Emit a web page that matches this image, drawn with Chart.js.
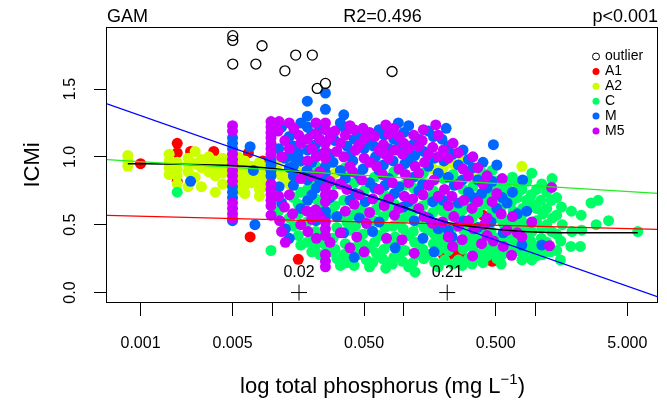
<!DOCTYPE html>
<html>
<head>
<meta charset="utf-8">
<script src="https://cdn.jsdelivr.net/npm/chart.js@4.4.0/dist/chart.umd.min.js"></script>
<style>
  html, body { margin: 0; padding: 0; background: #fff; }
  #wrap { width: 667px; height: 403px; position: relative; }
</style>
</head>
<body>
<div id="wrap"><canvas id="chart"></canvas></div>
<script>
// groups and colours (R rainbow(5))
const groups = ['A1', 'A2', 'C', 'M', 'M5'];
const groupColors = ['#FF0000', '#CCFF00', '#00FF66', '#0066FF', '#CC00FF'];

// axis ticks
const xTickValues = [0.001, 0.005, 0.01, 0.05, 0.1, 0.5, 1, 5];
const xTickLabels = ['0.001', '0.005', '', '0.050', '', '0.500', '', '5.000'];
const yTickValues = [0, 0.5, 1, 1.5];
const yTickLabels = ['0.0', '0.5', '1.0', '1.5'];

// [total phosphorus mg/L, ICMi]
const a1Points = [
  [0.001, 0.95], [0.0019, 1.10], [0.0019, 1.03], [0.0019, 0.82], [0.0024, 1.04], [0.0036, 1.04],
  [0.0059, 0.79], [0.0066, 1.03], [0.0068, 0.41], [0.0085, 0.97], [0.013, 1.0], [0.0158, 0.245],
  [0.045, 0.83], [0.20, 0.28], [0.235, 0.27], [0.25, 0.29], [0.28, 0.26], [0.40, 0.57], [0.47, 0.23]
];
const a2Points = [
  [0.0008, 1.01], [0.0008, 0.97], [0.0008, 0.93],
  [0.00165, 1.02], [0.00165, 0.97], [0.00165, 0.92], [0.00165, 0.87],
  [0.0019, 0.96], [0.0019, 0.91], [0.0019, 0.86], [0.0019, 0.80],
  [0.0023, 0.99], [0.0023, 0.94], [0.0023, 0.89], [0.0023, 0.78],
  [0.0026, 1.04], [0.0026, 0.95], [0.0026, 0.85],
  [0.0029, 0.98], [0.0029, 0.92], [0.0029, 0.78],
  [0.0033, 1.00], [0.0033, 0.95], [0.0033, 0.89],
  [0.0037, 0.97], [0.0037, 0.92], [0.0037, 0.86], [0.0037, 0.74],
  [0.0042, 0.99], [0.0042, 0.94], [0.0042, 0.88], [0.0042, 0.80],
  [0.0047, 0.95], [0.0047, 0.90],
  [0.0055, 1.00], [0.0055, 0.94], [0.0055, 0.88], [0.0055, 0.82], [0.0055, 0.76],
  [0.0062, 0.97], [0.0062, 0.91], [0.0062, 0.85], [0.0062, 0.79], [0.0062, 0.73],
  [0.0070, 0.93], [0.0070, 0.87], [0.0070, 0.81],
  [0.0080, 0.96], [0.0080, 0.89], [0.0080, 0.83], [0.0080, 0.76], [0.0080, 0.71],
  [0.0090, 0.92], [0.0090, 0.85], [0.0090, 0.78],
  [0.0112, 0.96], [0.0112, 0.89], [0.0118, 0.86], [0.0125, 0.85], [0.0135, 0.80], [0.0158, 0.90],
  [0.0215, 0.85], [0.030, 0.88],
  [0.168, 0.91], [0.20, 0.92], [0.237, 0.95], [0.282, 0.98], [0.335, 0.85], [0.79, 0.93]
];
const cPoints = [
  [0.0019, 0.74], [0.0098, 0.31], [0.0112, 0.60], [0.0135, 0.55],
  [0.0145, 0.70], [0.0145, 0.49], [0.0158, 0.65], [0.0158, 0.58], [0.0158, 0.42],
  [0.0165, 0.74], [0.0165, 0.35],
  [0.0185, 0.76], [0.0185, 0.52], [0.0185, 0.37], [0.020, 0.80], [0.020, 0.43], [0.020, 0.30],
  [0.0215, 0.93], [0.0215, 0.69], [0.0215, 0.45], [0.0215, 0.35], [0.023, 0.63], [0.023, 0.40], [0.023, 0.28],
  [0.0254, 0.35], [0.0275, 0.58], [0.0275, 0.30],
  [0.030, 0.80], [0.030, 0.64], [0.031, 0.48], [0.029, 0.40], [0.030, 0.32], [0.031, 0.25],
  [0.033, 0.56], [0.033, 0.20],
  [0.036, 0.92], [0.035, 0.68], [0.037, 0.52], [0.036, 0.36], [0.035, 0.28], [0.037, 0.22],
  [0.039, 0.46], [0.039, 0.25],
  [0.042, 0.81], [0.041, 0.57], [0.043, 0.49], [0.042, 0.33], [0.042, 0.20],
  [0.046, 0.62], [0.046, 0.39], [0.046, 0.28],
  [0.050, 0.75], [0.051, 0.59], [0.049, 0.43], [0.050, 0.35], [0.052, 0.24],
  [0.055, 0.47], [0.055, 0.33], [0.055, 0.19],
  [0.060, 0.85], [0.061, 0.61], [0.059, 0.53], [0.060, 0.37], [0.062, 0.29], [0.058, 0.22],
  [0.065, 0.66], [0.065, 0.42], [0.065, 0.28],
  [0.071, 0.72], [0.070, 0.56], [0.072, 0.48], [0.071, 0.32], [0.069, 0.25], [0.073, 0.18],
  [0.077, 0.60], [0.077, 0.37], [0.077, 0.22],
  [0.084, 0.89], [0.085, 0.65], [0.083, 0.49], [0.086, 0.41], [0.084, 0.26], [0.082, 0.21],
  [0.092, 0.51], [0.092, 0.35], [0.092, 0.27],
  [0.100, 0.79], [0.101, 0.55], [0.099, 0.47], [0.102, 0.31], [0.098, 0.23],
  [0.109, 0.58], [0.109, 0.42], [0.109, 0.19],
  [0.119, 0.77], [0.120, 0.61], [0.118, 0.45], [0.121, 0.37], [0.117, 0.22], [0.122, 0.15],
  [0.13, 0.52], [0.13, 0.36], [0.13, 0.28],
  [0.141, 0.88], [0.140, 0.64], [0.143, 0.48], [0.139, 0.32], [0.142, 0.25],
  [0.154, 0.69], [0.154, 0.46], [0.154, 0.28],
  [0.168, 0.75], [0.166, 0.59], [0.170, 0.43], [0.168, 0.36], [0.172, 0.22],
  [0.183, 0.63], [0.183, 0.40], [0.183, 0.31], [0.183, 0.19],
  [0.200, 0.84], [0.198, 0.60], [0.203, 0.44], [0.200, 0.37], [0.205, 0.24],
  [0.218, 0.57], [0.218, 0.31],
  [0.237, 0.87], [0.234, 0.63], [0.240, 0.48], [0.236, 0.21],
  [0.26, 0.58], [0.26, 0.37], [0.26, 0.24],
  [0.282, 0.76], [0.280, 0.61], [0.285, 0.46], [0.282, 0.32], [0.278, 0.20],
  [0.31, 0.66], [0.31, 0.43], [0.31, 0.36], [0.31, 0.25],
  [0.335, 0.78], [0.332, 0.55], [0.338, 0.40], [0.335, 0.33], [0.330, 0.21],
  [0.365, 0.59], [0.365, 0.38], [0.365, 0.26],
  [0.40, 0.88], [0.41, 0.65], [0.40, 0.43], [0.39, 0.29], [0.40, 0.22],
  [0.43, 0.70], [0.43, 0.47], [0.43, 0.34], [0.43, 0.27],
  [0.47, 0.90], [0.48, 0.75], [0.47, 0.60], [0.46, 0.45], [0.48, 0.31],
  [0.51, 0.82], [0.51, 0.55], [0.51, 0.40], [0.51, 0.32], [0.51, 0.25],
  [0.56, 0.77], [0.55, 0.63], [0.57, 0.51], [0.56, 0.28], [0.55, 0.21],
  [0.61, 0.80], [0.61, 0.72], [0.61, 0.53], [0.61, 0.39], [0.61, 0.30],
  [0.67, 0.85], [0.66, 0.67], [0.68, 0.60], [0.67, 0.49], [0.66, 0.42], [0.68, 0.35],
  [0.73, 0.80], [0.73, 0.70], [0.73, 0.52], [0.73, 0.38], [0.73, 0.31],
  [0.79, 0.76], [0.80, 0.62], [0.78, 0.55], [0.79, 0.48], [0.81, 0.28], [0.79, 0.24],
  [0.86, 0.82], [0.86, 0.68], [0.86, 0.50], [0.86, 0.42], [0.86, 0.35],
  [0.94, 0.88], [0.93, 0.72], [0.95, 0.65], [0.94, 0.45], [0.92, 0.38], [0.96, 0.30], [0.94, 0.24],
  [1.02, 0.76], [1.02, 0.62], [1.02, 0.53], [1.02, 0.34], [1.02, 0.27],
  [1.12, 0.80], [1.10, 0.68], [1.14, 0.58], [1.12, 0.48], [1.11, 0.40], [1.13, 0.28],
  [1.22, 0.74], [1.22, 0.62], [1.22, 0.50], [1.22, 0.37],
  [1.34, 0.84], [1.32, 0.68], [1.35, 0.55], [1.33, 0.45], [1.30, 0.30],
  [1.45, 0.70], [1.45, 0.57], [1.45, 0.43], [1.45, 0.31],
  [1.58, 0.63], [1.60, 0.50], [1.56, 0.38], [1.55, 0.24],
  [1.88, 0.60], [1.90, 0.45], [1.86, 0.34],
  [2.23, 0.57], [2.25, 0.46], [2.20, 0.34],
  [2.65, 0.66], [3.0, 0.68], [2.9, 0.50], [3.6, 0.53], [6.0, 0.45]
];
const mPoints = [
  [0.0024, 0.82],
  [0.005, 1.14], [0.005, 1.10], [0.005, 1.06], [0.005, 0.78], [0.005, 0.74], [0.005, 0.70], [0.005, 0.53],
  [0.0068, 1.075], [0.0072, 0.90], [0.0074, 0.50],
  [0.0098, 0.98], [0.0098, 0.94], [0.0098, 0.90], [0.0098, 0.86],
  [0.0112, 1.06], [0.0113, 0.78], [0.0118, 1.22], [0.0118, 0.66], [0.0125, 0.99], [0.0126, 0.47],
  [0.0135, 1.15], [0.0135, 0.92], [0.0135, 0.40],
  [0.0145, 1.08], [0.0145, 1.00], [0.0145, 0.93], [0.0145, 0.86], [0.0145, 0.79], [0.0158, 1.03],
  [0.0165, 1.25], [0.0165, 0.97], [0.0165, 0.62],
  [0.0185, 1.41], [0.0185, 1.30], [0.0185, 1.22], [0.0186, 1.05], [0.0184, 0.90], [0.0185, 0.83], [0.0186, 0.68],
  [0.020, 1.17], [0.020, 0.96], [0.020, 0.72],
  [0.0214, 1.09], [0.0216, 0.77], [0.0215, 0.53], [0.023, 1.20], [0.023, 1.02], [0.023, 0.81],
  [0.0254, 1.47], [0.0254, 1.35], [0.0254, 0.93], [0.0254, 0.88], [0.0254, 0.84], [0.0254, 0.60], [0.0254, 0.56],
  [0.0275, 1.02], [0.0275, 0.70],
  [0.030, 1.12], [0.029, 0.96], [0.031, 0.56], [0.033, 1.25], [0.033, 0.90],
  [0.035, 1.31], [0.035, 1.22], [0.037, 1.08], [0.036, 0.84], [0.035, 0.44],
  [0.039, 1.01], [0.039, 0.68],
  [0.042, 1.13], [0.041, 0.97], [0.043, 0.73], [0.042, 0.26],
  [0.046, 1.17], [0.046, 0.86], [0.046, 0.55],
  [0.050, 1.06], [0.049, 0.91], [0.051, 0.67], [0.055, 1.12], [0.055, 0.81],
  [0.059, 1.08], [0.061, 1.00], [0.060, 0.77], [0.058, 0.45],
  [0.065, 1.20], [0.065, 0.90], [0.065, 0.52],
  [0.071, 1.16], [0.070, 0.94], [0.072, 0.79], [0.077, 1.06], [0.077, 0.84],
  [0.091, 1.25], [0.084, 1.13], [0.083, 0.97], [0.085, 0.73], [0.086, 0.33],
  [0.092, 1.07], [0.092, 0.78],
  [0.100, 1.18], [0.102, 0.95], [0.099, 0.63],
  [0.109, 1.23], [0.109, 0.98], [0.109, 0.67],
  [0.118, 1.09], [0.121, 1.01], [0.119, 0.85], [0.120, 0.53], [0.13, 1.13], [0.13, 0.75],
  [0.142, 1.04], [0.139, 0.80], [0.140, 0.40],
  [0.154, 1.19], [0.154, 0.93], [0.154, 0.55],
  [0.168, 1.15], [0.171, 0.99], [0.166, 0.67], [0.170, 0.30], [0.183, 0.88], [0.183, 0.47],
  [0.210, 1.21], [0.195, 1.13], [0.202, 0.97], [0.199, 0.68],
  [0.218, 1.08], [0.218, 0.85], [0.218, 0.46],
  [0.237, 1.02], [0.242, 0.79], [0.233, 0.41], [0.26, 0.94], [0.26, 0.66],
  [0.282, 1.05], [0.279, 0.83], [0.285, 0.53], [0.31, 0.98], [0.31, 0.74],
  [0.335, 0.92], [0.338, 0.70], [0.365, 0.83], [0.365, 0.48],
  [0.40, 0.96], [0.39, 0.73], [0.43, 0.77],
  [0.48, 1.09], [0.47, 0.82], [0.46, 0.52], [0.51, 0.94], [0.51, 0.62],
  [0.56, 0.70], [0.57, 0.44], [0.61, 0.66],
  [0.67, 0.74], [0.73, 0.58], [0.80, 0.83], [0.79, 0.35], [0.86, 0.60], [1.12, 0.35]
];
const m5Points = [
  [0.005, 1.23], [0.005, 1.19], [0.005, 1.02], [0.005, 0.98], [0.005, 0.94], [0.005, 0.90],
  [0.005, 0.86], [0.005, 0.82], [0.005, 0.66], [0.005, 0.62], [0.005, 0.58], [0.005, 0.545],
  [0.0098, 1.26], [0.0098, 1.22], [0.0098, 1.18], [0.0098, 1.14], [0.0098, 1.10], [0.0098, 1.06], [0.0098, 1.02],
  [0.0098, 0.80], [0.0098, 0.76], [0.0098, 0.72], [0.0098, 0.68], [0.0098, 0.64], [0.0098, 0.57],
  [0.0113, 1.26], [0.0111, 1.19], [0.0112, 0.71], [0.0114, 0.53], [0.0118, 1.00], [0.0118, 0.45],
  [0.0125, 1.12], [0.0124, 0.63], [0.0126, 0.37],
  [0.0135, 1.25], [0.0135, 1.06], [0.0135, 0.72],
  [0.0146, 1.21], [0.0143, 0.58], [0.0159, 1.16],
  [0.0165, 1.10], [0.0165, 0.84], [0.0165, 0.50],
  [0.0185, 1.13], [0.0186, 0.97], [0.0184, 0.60], [0.0187, 0.45],
  [0.020, 1.06], [0.020, 0.86], [0.020, 0.54],
  [0.0215, 1.25], [0.0213, 1.17], [0.0216, 1.00], [0.0214, 0.61], [0.0217, 0.40],
  [0.023, 1.13], [0.023, 0.89], [0.023, 0.56],
  [0.0254, 1.25], [0.0254, 1.20], [0.0254, 1.10], [0.0254, 1.04], [0.0254, 0.99], [0.0254, 0.77],
  [0.0254, 0.72], [0.0254, 0.67], [0.0254, 0.52], [0.0254, 0.47], [0.0254, 0.42], [0.0254, 0.28],
  [0.0254, 0.23], [0.0254, 0.19],
  [0.0275, 1.14], [0.0275, 0.82], [0.0275, 0.37],
  [0.030, 1.19], [0.031, 1.04], [0.029, 0.72],
  [0.033, 1.10], [0.033, 0.80], [0.033, 0.44],
  [0.036, 1.16], [0.035, 1.00], [0.037, 0.76], [0.036, 0.60],
  [0.039, 1.23], [0.039, 0.93], [0.039, 0.33],
  [0.042, 1.20], [0.043, 1.05], [0.041, 0.89], [0.042, 0.65], [0.044, 0.41],
  [0.046, 1.09], [0.046, 0.72],
  [0.049, 1.21], [0.051, 1.14], [0.050, 0.99], [0.048, 0.83], [0.052, 0.51], [0.050, 0.30],
  [0.055, 1.18], [0.055, 0.96], [0.055, 0.59],
  [0.060, 1.15], [0.062, 0.93], [0.058, 0.69],
  [0.065, 1.05], [0.065, 0.76],
  [0.073, 1.235], [0.070, 1.09], [0.072, 1.02], [0.069, 0.87], [0.071, 0.64], [0.074, 0.40],
  [0.077, 1.17], [0.077, 0.99], [0.077, 0.69],
  [0.084, 1.21], [0.086, 1.05], [0.082, 0.81], [0.085, 0.57],
  [0.092, 1.15], [0.092, 0.91], [0.092, 0.62],
  [0.100, 1.10], [0.098, 1.02], [0.103, 0.87], [0.101, 0.71], [0.097, 0.39],
  [0.109, 1.06], [0.109, 0.81],
  [0.119, 1.16], [0.122, 0.93], [0.117, 0.69], [0.120, 0.29],
  [0.13, 1.08], [0.13, 0.88], [0.13, 0.62],
  [0.141, 1.20], [0.138, 1.12], [0.144, 0.96], [0.140, 0.72], [0.143, 0.56],
  [0.154, 1.02], [0.154, 0.79],
  [0.175, 1.235], [0.166, 1.07], [0.170, 0.83], [0.165, 0.51],
  [0.183, 1.16], [0.183, 1.00], [0.183, 0.71],
  [0.200, 1.05], [0.204, 0.76], [0.197, 0.52],
  [0.218, 0.99], [0.218, 0.64], [0.218, 0.41],
  [0.237, 1.10], [0.232, 0.71], [0.240, 0.56], [0.235, 0.34],
  [0.26, 1.03], [0.26, 0.80], [0.26, 0.49],
  [0.282, 0.91], [0.286, 0.68], [0.278, 0.39],
  [0.31, 0.86], [0.31, 0.53],
  [0.335, 1.00], [0.330, 0.62], [0.340, 0.47], [0.333, 0.27],
  [0.365, 0.92], [0.365, 0.67],
  [0.40, 0.80], [0.41, 0.50], [0.39, 0.36],
  [0.43, 0.86], [0.43, 0.55], [0.43, 0.42],
  [0.47, 0.67], [0.48, 0.38], [0.51, 0.73],
  [0.56, 0.84], [0.55, 0.58], [0.57, 0.34], [0.61, 0.46],
  [0.67, 0.56], [0.66, 0.275], [0.73, 0.44],
  [0.79, 0.41], [0.94, 0.52], [1.33, 0.775], [1.28, 0.345]
];
const outlierPoints = [
  [0.00502, 1.893], [0.00502, 1.858], [0.00502, 1.684], [0.00838, 1.819], [0.0151, 1.750],
  [0.0202, 1.750], [0.00752, 1.684], [0.0125, 1.634], [0.0815, 1.629], [0.022, 1.504], [0.0254, 1.541]
];

// fitted lines (ends at the plot edges)
const fitX = [0.000556, 8.55];
const fitRed = [0.569, 0.465];
const fitGreen = [0.979, 0.731];
const fitBlue = [1.391, -0.032];
// GAM smooth
const gamX = [0.0008, 0.002, 0.005, 0.01, 0.015, 0.02, 0.03, 0.06, 0.1, 0.16, 0.22, 0.34, 0.8, 2, 6];
const gamY = [0.95, 0.945, 0.935, 0.915, 0.89, 0.855, 0.80, 0.70, 0.63, 0.555, 0.515, 0.485, 0.45, 0.44, 0.44];
// breakpoints
const breakX = [0.016, 0.214];
const breakLabels = ['0.02', '0.21'];

const FONT = "'Liberation Sans', Arimo, Arial, Helvetica, sans-serif";

const toXY = (pts) => pts.map(([x, y]) => ({ x, y }));
const pairXY = (xs, ys) => xs.map((x, i) => ({ x, y: ys[i] }));

const groupPoints = [a1Points, a2Points, cPoints, mPoints, m5Points];
const pointSets = groups.map((g, i) => ({
  label: g,
  data: toXY(groupPoints[i]),
  backgroundColor: groupColors[i],
  borderWidth: 0,
  pointRadius: 5.5,
  pointHoverRadius: 5.5,
  order: 6 - i
}));

const lineSet = (label, xs, ys, color) => ({
  label,
  data: pairXY(xs, ys),
  showLine: true,
  borderColor: color,
  borderWidth: 1.3,
  pointRadius: 0,
  order: 0
});

const decor = {
  id: 'decor',
  afterDraw(chart) {
    const { ctx, chartArea: a, scales: { y } } = chart;
    ctx.save();
    ctx.strokeStyle = '#000';
    ctx.lineWidth = 1;
    ctx.strokeRect(Math.round(a.left) - 0.5, Math.round(a.top) + 0.5,
      Math.round(a.right - a.left), Math.round(a.bottom - a.top) - 1);

    ctx.fillStyle = '#000';
    // rotated y tick labels
    ctx.font = '16px ' + FONT;
    ctx.textAlign = 'center';
    ctx.textBaseline = 'middle';
    yTickValues.forEach((v, i) => {
      ctx.save();
      ctx.translate(71, y.getPixelForValue(v));
      ctx.rotate(-Math.PI / 2);
      ctx.fillText(yTickLabels[i], 0, 0);
      ctx.restore();
    });

    // y title
    ctx.save();
    ctx.font = '22px ' + FONT;
    ctx.translate(33, (a.top + a.bottom) / 2);
    ctx.rotate(-Math.PI / 2);
    ctx.fillText('ICMi', 0, 0);
    ctx.restore();

    // x title with superscript
    const mid = (a.left + a.right) / 2;
    const t1 = 'log total phosphorus (mg L', t2 = '\u22121', t3 = ')';
    ctx.font = '22px ' + FONT;
    const w1 = ctx.measureText(t1).width, w3 = ctx.measureText(t3).width;
    ctx.font = '15px ' + FONT;
    const w2 = ctx.measureText(t2).width;
    const sx = mid - (w1 + w2 + w3) / 2;
    ctx.textAlign = 'left';
    ctx.textBaseline = 'alphabetic';
    ctx.font = '22px ' + FONT;
    ctx.fillText(t1, sx, 393);
    ctx.font = '15px ' + FONT;
    ctx.fillText(t2, sx + w1, 384);
    ctx.font = '22px ' + FONT;
    ctx.fillText(t3, sx + w1 + w2, 393);

    // top texts
    ctx.font = '18px ' + FONT;
    ctx.textAlign = 'left';
    ctx.fillText('GAM', a.left, 22);
    ctx.textAlign = 'center';
    ctx.fillText('R2=0.496', mid, 22);
    ctx.textAlign = 'right';
    ctx.fillText('p<0.001', a.right, 22);

    // breakpoint labels
    const meta = chart.getDatasetMeta(chart.data.datasets.findIndex(d => d.label === 'breaks'));
    ctx.font = '16px ' + FONT;
    ctx.textAlign = 'center';
    ctx.textBaseline = 'middle';
    meta.data.forEach((el, i) => ctx.fillText(breakLabels[i], el.x, el.y - 20));

    // legend
    const items = ['outlier'].concat(groups);
    ctx.font = '14px ' + FONT;
    ctx.textAlign = 'left';
    items.forEach((txt, i) => {
      const ly = 56.5 + i * 14.9;
      ctx.beginPath();
      ctx.arc(596, ly, 3.5, 0, Math.PI * 2);
      if (i === 0) { ctx.lineWidth = 1; ctx.stroke(); }
      else { ctx.fillStyle = groupColors[i - 1]; ctx.fill(); }
      ctx.fillStyle = '#000';
      ctx.fillText(txt, 605, ly);
    });
    ctx.restore();
  }
};

new Chart(document.getElementById('chart'), {
  type: 'scatter',
  data: {
    datasets: [
      lineSet('fitRed', fitX, fitRed, '#FF0000'),
      lineSet('fitGreen', fitX, fitGreen, '#22EE22'),
      lineSet('fitBlue', fitX, fitBlue, '#0000FF'),
      Object.assign(lineSet('gam', gamX, gamY, '#000000'), { cubicInterpolationMode: 'monotone', borderWidth: 1.5 }),
      {
        label: 'breaks',
        data: breakX.map(x => ({ x, y: 0 })),
        pointStyle: 'cross',
        pointRadius: 8,
        borderColor: '#000',
        borderWidth: 1,
        order: 0
      },
      {
        label: 'outlier',
        data: toXY(outlierPoints),
        backgroundColor: 'rgba(0,0,0,0)',
        borderColor: '#000',
        borderWidth: 1.3,
        pointRadius: 5,
        order: 1
      },
      ...pointSets
    ]
  },
  options: {
    responsive: true,
    maintainAspectRatio: false,
    devicePixelRatio: 1,
    animation: false,
    events: [],
    layout: { padding: { top: 27, right: 1, left: 0, bottom: 0 } },
    plugins: { legend: { display: false }, tooltip: { enabled: false } },
    scales: {
      x: {
        type: 'logarithmic',
        min: 0.000556,
        max: 8.55,
        border: { display: false },
        grid: { drawOnChartArea: false, drawTicks: true, tickLength: 13, color: '#000' },
        afterBuildTicks: (s) => { s.ticks = xTickValues.map(v => ({ value: v })); },
        afterFit: (s) => { s.height = 100; },
        ticks: {
          autoSkip: false,
          maxRotation: 0,
          minRotation: 0,
          padding: 18,
          color: '#000',
          font: { family: FONT, size: 16 },
          callback: (v, i) => xTickLabels[i]
        }
      },
      y: {
        type: 'linear',
        min: -0.077,
        max: 1.957,
        border: { display: false },
        grid: { drawOnChartArea: false, drawTicks: true, tickLength: 13, color: '#000' },
        afterBuildTicks: (s) => { s.ticks = yTickValues.map(v => ({ value: v })); },
        afterFit: (s) => { s.width = 107; },
        ticks: { display: false }
      }
    }
  },
  plugins: [decor]
});
</script>
</body>
</html>
